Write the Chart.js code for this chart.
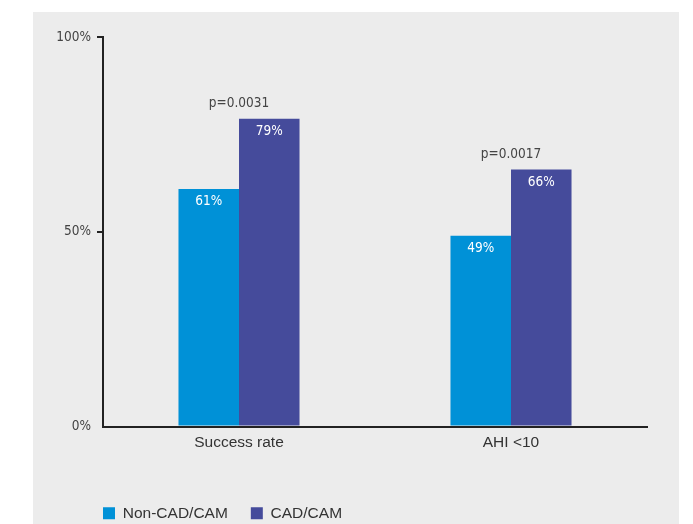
<!DOCTYPE html>
<html>
<head>
<meta charset="utf-8">
<script src="https://cdn.jsdelivr.net/npm/chart.js@4.4.1/dist/chart.umd.min.js"></script>
<style>
  html, body { margin: 0; padding: 0; background: #fff; overflow: hidden; }
  #panel { position: absolute; left: 33px; top: 12px; width: 646px; height: 512px; background: #ececec; }
  #wrap { position: absolute; left: 0; top: 0; }
</style>
</head>
<body>
<div id="panel"></div>
<div id="wrap"><canvas id="chart" width="693" height="531"></canvas></div>
<script>
// Data
var categories = ['Success rate', 'AHI <10'];
var nonCadCam = [61, 49];
var cadCam = [79, 66];
var pValues = ['p=0.0031', 'p=0.0017'];
var yTicks = [0, 50, 100];

var BLUE = 'rgb(0, 145, 215)';
var PURPLE = 'rgb(69, 75, 155)';
var NARROW = '"DejaVu Sans Condensed", sans-serif';
var LEGEND_PAD = 23;

// Value labels inside bars and p-values above each pair
var barLabels = {
  id: 'barLabels',
  afterLayout: function(chart) {
    // start the legend under the y axis
    chart.legend.left = chart.chartArea.left - LEGEND_PAD;
  },
  afterDatasetsDraw: function(chart) {
    var ctx = chart.ctx;
    ctx.save();
    ctx.textAlign = 'center';
    ctx.textBaseline = 'middle';
    ctx.font = '13.5px ' + NARROW;
    chart.data.datasets.forEach(function(ds, di) {
      chart.getDatasetMeta(di).data.forEach(function(bar, i) {
        ctx.fillStyle = '#fff';
        ctx.fillText(ds.data[i] + '%', bar.x, bar.y + 13);
      });
    });
    var tallBars = chart.getDatasetMeta(1).data;
    ctx.fillStyle = '#444';
    pValues.forEach(function(p, i) {
      ctx.fillText(p, chart.scales.x.getPixelForValue(i), tallBars[i].y - 15);
    });
    ctx.restore();
  }
};

Chart.defaults.color = '#444';

var chart = new Chart(document.getElementById('chart'), {
  type: 'bar',
  data: {
    labels: categories,
    datasets: [{
      label: 'Non-CAD/CAM',
      data: nonCadCam,
      backgroundColor: BLUE
    }, {
      label: 'CAD/CAM',
      data: cadCam,
      backgroundColor: PURPLE
    }]
  },
  options: {
    responsive: false,
    animation: false,
    barPercentage: 1,
    categoryPercentage: 0.445,
    layout: {
      padding: { left: 0, right: 46, top: 37, bottom: 0 }
    },
    scales: {
      x: {
        grid: { display: false, drawTicks: false },
        border: { display: true, color: '#222', width: 2 },
        ticks: {
          padding: 7,
          color: '#333',
          font: { family: '"Liberation Sans", Arial, sans-serif', size: 15.5 }
        },
        afterFit: function(scale) { scale.height = 56; }
      },
      y: {
        min: 0,
        max: 100,
        grid: {
          drawOnChartArea: false,
          drawTicks: true,
          tickLength: 6,
          lineWidth: 2,
          color: function(c) { return c.tick && c.tick.value === 0 ? 'rgba(0,0,0,0)' : '#222'; }
        },
        border: { display: true, color: '#222', width: 2 },
        ticks: {
          padding: 6,
          color: '#444',
          font: { family: NARROW, size: 13.5 },
          callback: function(v) { return v + '%'; }
        },
        afterBuildTicks: function(scale) {
          scale.ticks = yTicks.map(function(v) { return { value: v }; });
        },
        afterFit: function(scale) { scale.width = 103; }
      }
    },
    plugins: {
      legend: {
        position: 'bottom',
        align: 'start',
        labels: {
          boxWidth: 12,
          boxHeight: 12,
          padding: LEGEND_PAD,
          color: '#333',
          font: { family: '"Liberation Sans", Arial, sans-serif', size: 15.5 }
        }
      },
      tooltip: { enabled: false }
    }
  },
  plugins: [barLabels]
});
</script>
</body>
</html>
